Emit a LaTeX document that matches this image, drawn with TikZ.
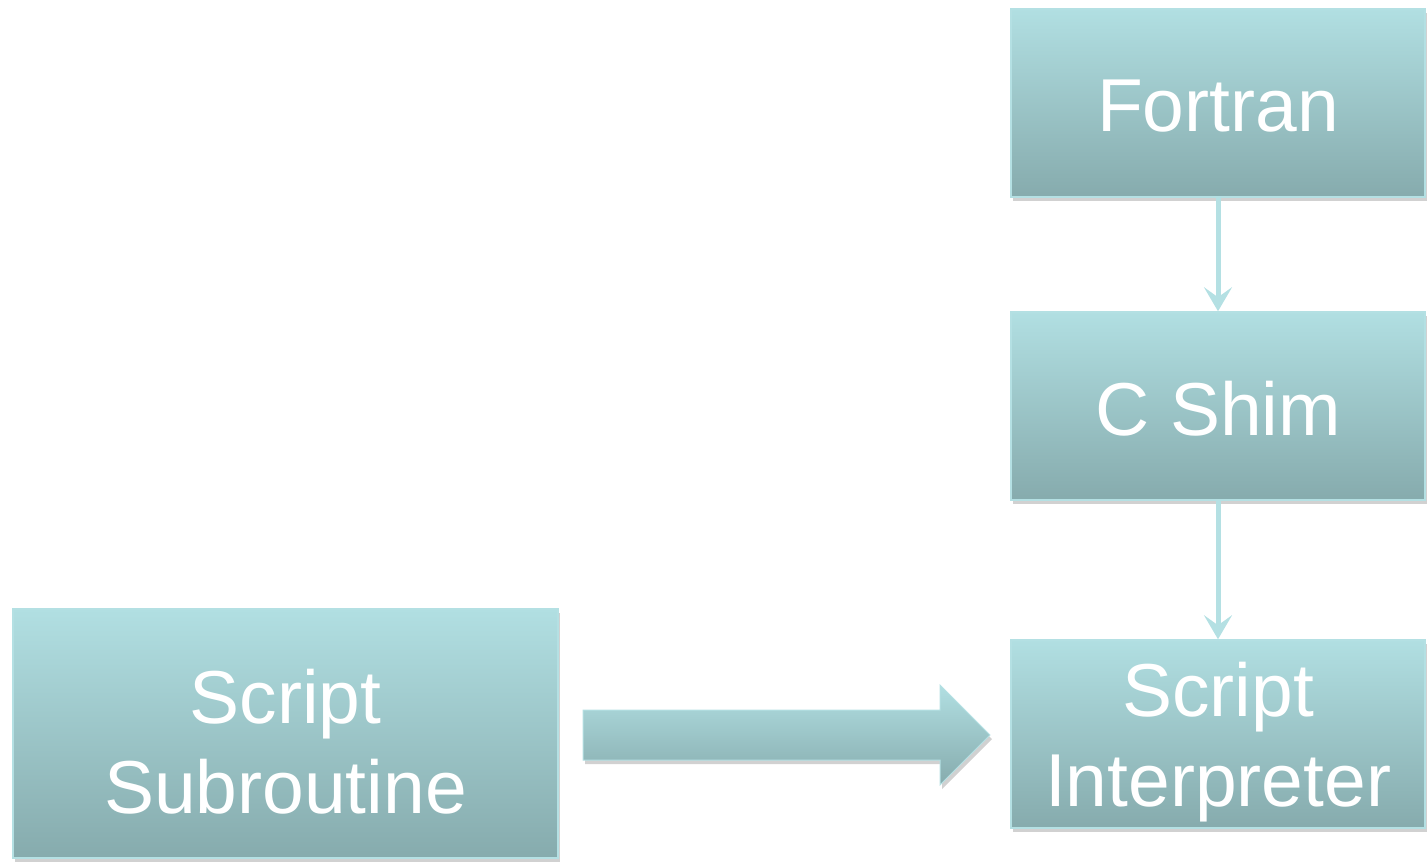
\documentclass[tikz,border=0pt]{standalone}
\usepackage{fontspec}
\setmainfont{Liberation Sans}
\usetikzlibrary{arrows.meta,shadows}
\definecolor{topc}{HTML}{B1DFE2}
\definecolor{botc}{HTML}{86ABAD}
\definecolor{edgec}{HTML}{B4E0E3}
\newcommand{\dnl}[2]{\raisebox{-#1}[\height][\depth]{#2}}
\tikzset{
  box/.style={rectangle, draw=edgec, line width=1.5pt, top color=topc, bottom color=botc,
    minimum width=414pt, minimum height=188pt, inner sep=0pt, text=white, align=center,
    font=\fontsize{75}{90}\selectfont,
    drop shadow={shadow xshift=2pt, shadow yshift=-4pt, opacity=0.3, fill=black!60}},
  link/.style={draw=edgec, line width=5pt, -{Stealth[length=24pt,width=28pt,inset=10pt]}},
  blockarrow/.style={draw=edgec, line width=1pt, top color=topc, bottom color=botc,
    drop shadow={shadow xshift=2pt, shadow yshift=-4pt, opacity=0.3, fill=black!60}}
}
\begin{document}
\begin{tikzpicture}[x=1pt,y=-1pt]
\useasboundingbox (0,0) rectangle (1427,863);
\node[box] (fortran) at (1218,103) {\dnl{3pt}{Fortran}};
\node[box] (shim) at (1218,406) {\dnl{3pt}{C Shim}};
\node[box] (interp) at (1218,734) {\dnl{8pt}{Script}\\\dnl{8pt}{Interpreter}};
\node[box, minimum width=545pt, minimum height=249pt] (sub) at (285.5,733.5) {\dnl{8pt}{Script}\\\dnl{8pt}{Subroutine}};
\draw[link] (fortran.south) -- (shim.north);
\draw[link] (shim.south) -- (interp.north);
\path[blockarrow] (583,710) -- (940,710) -- (940,685) -- (990,735) -- (940,785) -- (940,760) -- (583,760) -- cycle;
\end{tikzpicture}
\end{document}
